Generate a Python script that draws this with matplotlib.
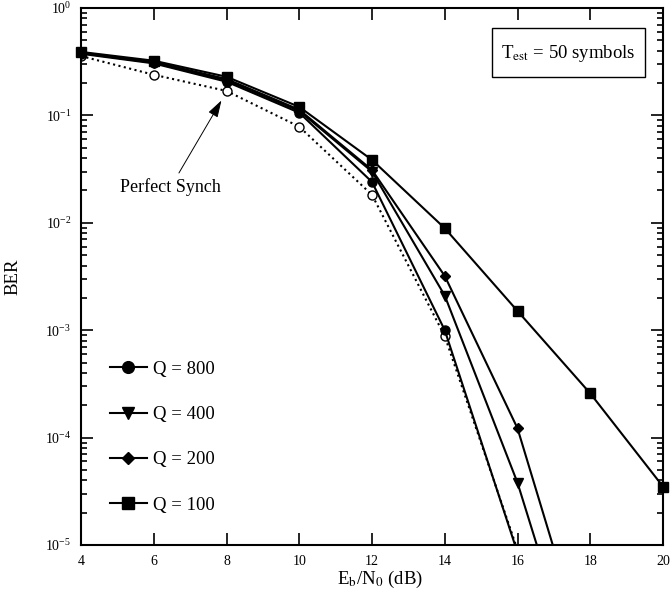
import matplotlib
matplotlib.use("Agg")
import matplotlib.pyplot as plt
import matplotlib.patches as mpatches
import numpy as np

plt.rcParams['font.family'] = ['Liberation Serif', 'DejaVu Serif']
plt.rcParams['mathtext.fontset'] = 'stix'

# Eb/N0 (dB) and BER per curve
snr = [4, 6, 8, 10, 12, 14, 16, 18, 20]
ber_q800 = [0.375, 0.305, 0.206, 0.106, 0.024, 1.0e-3, 8.5e-6]
ber_q400 = [0.38, 0.31, 0.213, 0.11, 0.030, 2.1e-3, 3.8e-5, 2.5e-7]
ber_q200 = [0.385, 0.315, 0.218, 0.113, 0.031, 3.2e-3, 1.22e-4, 7e-7]
ber_q100 = [0.39, 0.323, 0.229, 0.12, 0.0385, 8.9e-3, 1.51e-3, 2.58e-4, 3.5e-5]
ber_perfect = [0.357, 0.239, 0.169, 0.0785, 0.0182, 8.8e-4, 9e-6]

labels = ["Q = 800", "Q = 400", "Q = 200", "Q = 100"]
xticks = [4, 6, 8, 10, 12, 14, 16, 18, 20]

fig = plt.figure(figsize=(6.71, 5.96), dpi=100)
ax = fig.add_axes([81 / 671, 1 - 545 / 596, 582 / 671, 537 / 596])

lw = 1.5
ax.plot(snr[:len(ber_perfect)], ber_perfect, ls=":", lw=lw, color="black",
        marker="o", ms=6.5, mfc="white", mec="black", mew=1.0)
ax.plot(snr[:len(ber_q800)], ber_q800, "-", lw=lw, color="black",
        marker="o", ms=6.5, label=labels[0])
ax.plot(snr[:len(ber_q400)], ber_q400, "-", lw=lw, color="black",
        marker="v", ms=7, label=labels[1])
ax.plot(snr[:len(ber_q200)], ber_q200, "-", lw=lw, color="black",
        marker="D", ms=5, label=labels[2])
ax.plot(snr[:len(ber_q100)], ber_q100, "-", lw=lw, color="black",
        marker="s", ms=6.5, label=labels[3], clip_on=False)

ax.set_yscale("log")
ax.set_xlim(4, 20)
ax.set_ylim(1e-5, 1)
ax.set_xticks(xticks)
ax.set_xticklabels([str(t) for t in xticks])
ax.minorticks_on()
ax.xaxis.set_minor_locator(matplotlib.ticker.NullLocator())

ax.tick_params(which="both", direction="in", top=True, right=True, width=1.2)
ax.tick_params(which="major", length=8.5, labelsize=10, pad=7)
ax.tick_params(which="minor", length=4.5)
for sp in ax.spines.values():
    sp.set_linewidth(1.5)

ax.set_xlabel(r"E$_\mathrm{b}$/N$_\mathrm{0}$ (dB)", fontsize=13.5)
ax.xaxis.set_label_coords(0.514, -0.045)
ax.set_ylabel("BER", fontsize=13.5)
ax.yaxis.set_label_coords(-0.103, 0.5)

leg = ax.legend(loc="upper left", bbox_to_anchor=(0.05, 0.343), frameon=False,
                fontsize=13.5, labelspacing=1.5, handlelength=1.95,
                handletextpad=0.35, borderpad=0, borderaxespad=0,
                markerscale=1.3)

ax.annotate("Perfect Synch", xy=(7.9, 0.145), xytext=(6.47, 0.0215),
            ha="center", va="center", fontsize=13,
            arrowprops=dict(arrowstyle="-|>,head_length=0.8,head_width=0.25",
                            lw=0.7, color="black", relpos=(0.55, 1.0),
                            shrinkA=2, shrinkB=2))

box = mpatches.Rectangle((0.7057, 0.8715), 0.263, 0.0913, transform=ax.transAxes,
                         fill=False, lw=1.0, ec="black")
ax.add_patch(box)
ax.text(0.837, 0.916, r"T$_\mathrm{est}$ = 50 symbols", transform=ax.transAxes,
        ha="center", va="center", fontsize=13.5)

fig.savefig("out.png", dpi=100)
